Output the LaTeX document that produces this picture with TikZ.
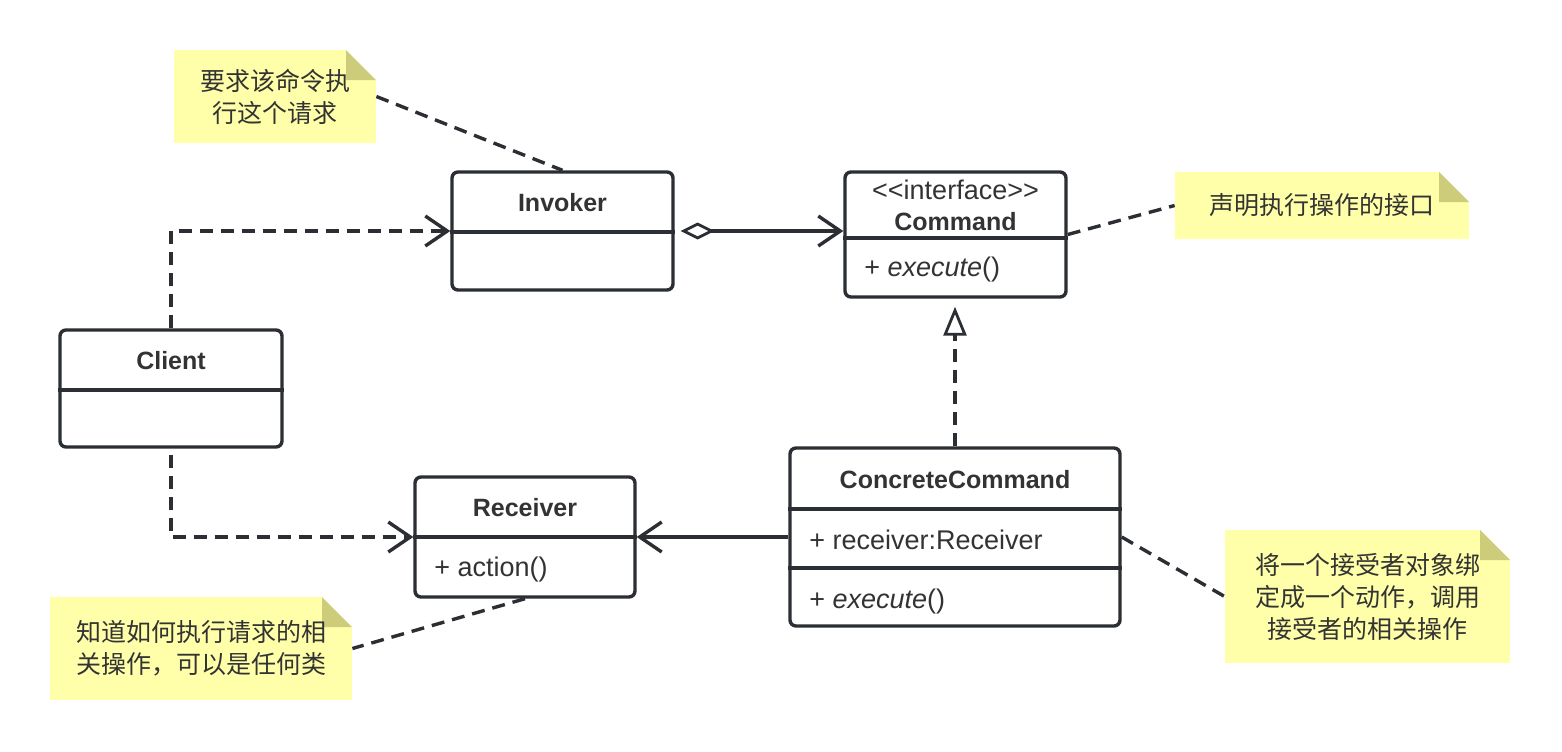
\documentclass[tikz,border=0pt]{standalone}
\usepackage{fontspec}
\setmainfont{Liberation Sans}
\newfontfamily\cjk{Noto Sans CJK SC}
\usepackage{xcolor}
\usepackage{tikz}
\usetikzlibrary{arrows.meta}

\definecolor{umlline}{HTML}{2B2F33}
\definecolor{umltext}{HTML}{333333}
\definecolor{notefill}{HTML}{FFFFAA}
\definecolor{notefold}{HTML}{CCCC7A}

\begin{document}
\begin{tikzpicture}[x=0.5pt, y=-0.5pt,
    classbox/.style={rectangle, draw=umlline, line width=1.7pt, rounded corners=3pt},
    divider/.style={draw=umlline, line width=1.7pt},
    classtitle/.style={text=umltext, font=\bfseries\fontsize{12.5}{15}\selectfont, inner sep=0pt},
    classmember/.style={text=umltext, font=\fontsize{13.5}{16}\selectfont, inner sep=0pt, anchor=west},
    notebox/.style={rectangle, fill=notefill, inner sep=0pt, align=center, text=umltext,
        font=\cjk\fontsize{12.5}{16}\selectfont,
        path picture={
            \fill[white] (path picture bounding box.north east) -- ++(-15pt,0) -- ++(15pt,-15pt) -- cycle;
            \fill[notefold] (path picture bounding box.north east) ++(-15pt,0) -- ++(0,-15pt) -- ++(15pt,0) -- cycle;
        }},
    conn/.style={draw=umlline, line width=1.7pt},
    dashline/.style={conn, dash pattern=on 6.5pt off 4pt},
    dep/.style={dashline, -{Straight Barb[length=11pt, width=15pt]}},
    assoc/.style={conn, -{Straight Barb[length=11pt, width=15pt]}},
    agg/.style={conn, {Diamond[open, length=17pt, width=8.5pt, line width=1.4pt]}-{Straight Barb[length=11pt, width=15pt]}, shorten <=3pt},
    real/.style={dashline, -{Triangle[open, length=14.5pt, width=11.5pt, line width=1.4pt]}, shorten >=4pt}
]
    \fill[white] (0,0) rectangle (1562,751);
    \useasboundingbox (0,0) rectangle (1562,751);

    % Classes
    \node[classbox, minimum width=110.5pt, minimum height=59pt] (invoker) at (562.5,231) {};
    \draw[divider] (invoker.west |- 0,232) -- (invoker.east |- 0,232);
    \node[classtitle] (invokertitle) at (562.5,203) {Invoker};

    \node[classbox, minimum width=110.5pt, minimum height=62.5pt] (command) at (955.5,234.5) {};
    \draw[divider] (command.west |- 0,238) -- (command.east |- 0,238);
    \node[classmember, anchor=center] (commandstereo) at (955.5,190) {<{}<interface>{}>};
    \node[classtitle] (commandtitle) at (955.5,222) {Command};
    \node[classmember] (commandexec) at (864,270) {+ \textit{execute}()};

    \node[classbox, minimum width=111pt, minimum height=58.5pt] (client) at (171,388.5) {};
    \draw[divider] (client.west |- 0,390) -- (client.east |- 0,390);
    \node[classtitle] (clienttitle) at (171,361) {Client};

    \node[classbox, minimum width=110pt, minimum height=60pt] (receiver) at (525,537) {};
    \draw[divider] (receiver.west |- 0,537) -- (receiver.east |- 0,537);
    \node[classtitle] (receivertitle) at (525,508) {Receiver};
    \node[classmember] (receiveraction) at (434,569) {+ action()};

    \node[classbox, minimum width=165pt, minimum height=89pt] (concrete) at (955,537) {};
    \draw[divider] (concrete.west |- 0,509) -- (concrete.east |- 0,509);
    \draw[divider] (concrete.west |- 0,568) -- (concrete.east |- 0,568);
    \node[classtitle] (concretetitle) at (955,480) {ConcreteCommand};
    \node[classmember] (concretefield) at (809,540) {+ receiver:Receiver};
    \node[classmember] (concreteexec) at (809,601) {+ \textit{execute}()};

    % Notes
    \node[notebox, minimum width=101pt, minimum height=46.5pt] (noteask) at (275,96.5) {要求该命令执\\行这个请求};
    \node[notebox, minimum width=147pt, minimum height=33.5pt] (noteiface) at (1322,205.5) {声明执行操作的接口};
    \node[notebox, minimum width=151pt, minimum height=51.5pt] (noteknow) at (201,648.5) {知道如何执行请求的相\\关操作，可以是任何类};
    \node[notebox, minimum width=142.5pt, minimum height=66.5pt] (notebind) at (1367.5,596.5) {将一个接受者对象绑\\定成一个动作，调用\\接受者的相关操作};

    % Relations
    \draw[dashline] (noteask.east) -- (invoker.north);
    \draw[dep] (client.north) |- (invoker.west);
    \draw[agg] (invoker.east) -- (invoker.east -| command.west);
    \draw[dashline] (command.east) -- (noteiface.west);
    \draw[real] (concrete.north) -- (concrete.north |- command.south);
    \draw[assoc] (concrete.west) -- (receiver.east);
    \draw[dep, shorten <=3pt] (client.south) |- (receiver.west);
    \draw[dashline] (receiver.south) -- (noteknow.east);
    \draw[dashline] (concrete.east) -- (notebind.west);
\end{tikzpicture}
\end{document}
